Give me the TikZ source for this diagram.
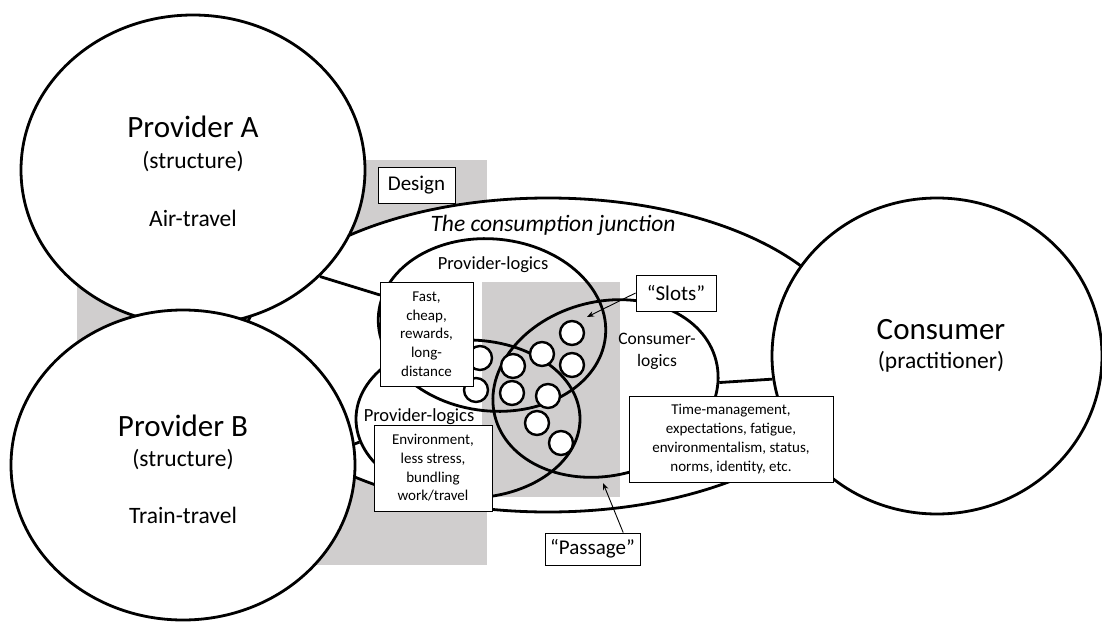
\documentclass[tikz,border=0pt]{standalone}
\usepackage{fontspec}
\setmainfont{Carlito}
\usetikzlibrary{shapes.geometric,calc,arrows.meta}
\definecolor{bggray}{RGB}{208,206,206}
\begin{document}
\begin{tikzpicture}[x=1pt,y=-1pt,
  bigcirc/.style={ellipse,draw,fill=white,line width=2.8pt,inner sep=0},
  logic/.style={ellipse,draw,line width=2.8pt,inner sep=0},
  slot/.style={circle,draw,fill=white,line width=2.4pt,minimum size=24pt,inner sep=0},
  tbox/.style={draw,fill=white,line width=0.9pt,inner sep=0,align=center},
  link/.style={line width=2.8pt},
  pointer/.style={line width=0.9pt,-{Stealth[length=7pt,width=5.5pt]}},
  titlefont/.style={font=\fontsize{31}{37}\selectfont},
  subfont/.style={font=\fontsize{23.5}{28}\selectfont},
  smallfont/.style={font=\fontsize{15}{18.7}\selectfont},
  labelfont/.style={font=\fontsize{18.5}{22}\selectfont},
  boxfont/.style={font=\fontsize{21}{25}\selectfont}]
\useasboundingbox (0,0) rectangle (1102,623);
% background shading
\fill[bggray] (77,160) rectangle (487,565);
% consumption junction
\node[bigcirc,minimum width=614pt,minimum height=314pt] (junc) at (548,355) {};
% big actors
\node[bigcirc,minimum width=344pt,minimum height=310pt] (A) at (193,170) {};
\node[bigcirc,minimum width=344pt,minimum height=310pt] (B) at (183,465) {};
\node[bigcirc,minimum width=330pt,minimum height=316pt] (cons) at (937,356) {};
% inner gray
\fill[bggray] (482,282) rectangle (620,497);
% logic ellipses
\node[logic,minimum width=228pt,minimum height=172pt,rotate=-6] (plA) at (492,325) {};
\node[logic,minimum width=224pt,minimum height=158pt] (plB) at (468,419) {};
\node[logic,minimum width=228pt,minimum height=174pt,rotate=14] (cl) at (605.5,388.5) {};
% slots
\node[slot] (s1) at (572,333) {};
\node[slot] (s2) at (542,354) {};
\node[slot] (s3) at (572,365) {};
\node[slot] (s4) at (513,366) {};
\node[slot] (s5) at (480,358) {};
\node[slot] (s6) at (476,390) {};
\node[slot] (s7) at (512,393) {};
\node[slot] (s8) at (548,396) {};
\node[slot] (s9) at (537,423) {};
\node[slot] (s10) at (561,443) {};
% texts
\node[titlefont] (tA) at (193,127) {Provider A};
\node[subfont] (sA) at (193,162) {(structure)};
\node[subfont] (uA) at (193,218) {Air-travel};
\node[titlefont] (tB) at (183,426) {Provider B};
\node[subfont] (sB) at (183,460) {(structure)};
\node[subfont] (uB) at (183,515) {Train-travel};
\node[titlefont] (tC) at (941,330) {Consumer};
\node[subfont] (sC) at (941,362) {(practitioner)};
\node[font=\fontsize{23.5}{28}\selectfont\itshape] (tJ) at (553,225) {The consumption junction};
\node[labelfont] (lplA) at (493,265) {Provider-logics};
\node[labelfont] (lplB) at (419,417) {Provider-logics};
\node[font=\fontsize{17.5}{22}\selectfont,align=center] (lcl) at (657,351) {Consumer-\\logics};
% connectors
\coordinate (fastIn) at (380,295);
\draw[link] (A.-40) -- (fastIn);
\draw[link] (B.7) -- (plB.192);
\draw[link] (cl.-11) -- (cons.188);
% boxes
\node[tbox,smallfont,minimum width=93pt,minimum height=104pt] (fast) at (426.5,334) {Fast,\\cheap,\\rewards,\\long-\\distance};
\node[tbox,smallfont,minimum width=118pt,minimum height=86pt] (env) at (433,468) {Environment,\\less stress,\\bundling\\work/travel};
\node[tbox,smallfont,minimum width=204pt,minimum height=86pt] (time) at (731,439) {Time-management,\\expectations, fatigue,\\environmentalism, status,\\norms, identity, etc.};
\node[tbox,boxfont,minimum width=77pt,minimum height=36pt] (design) at (416.5,185) {Design};
\node[tbox,boxfont,minimum width=80pt,minimum height=36pt] (slots) at (676,293) {“Slots”};
\node[tbox,boxfont,minimum width=95pt,minimum height=32pt] (passage) at (592.5,549) {“Passage”};
% pointers
\coordinate (slotTip) at (587,317);
\coordinate (passTip) at (603,483);
\draw[pointer] (slots.west) -- (slotTip);
\draw[pointer] ($(passage.north west)!0.82!(passage.north east)$) -- (passTip);
\end{tikzpicture}
\end{document}
